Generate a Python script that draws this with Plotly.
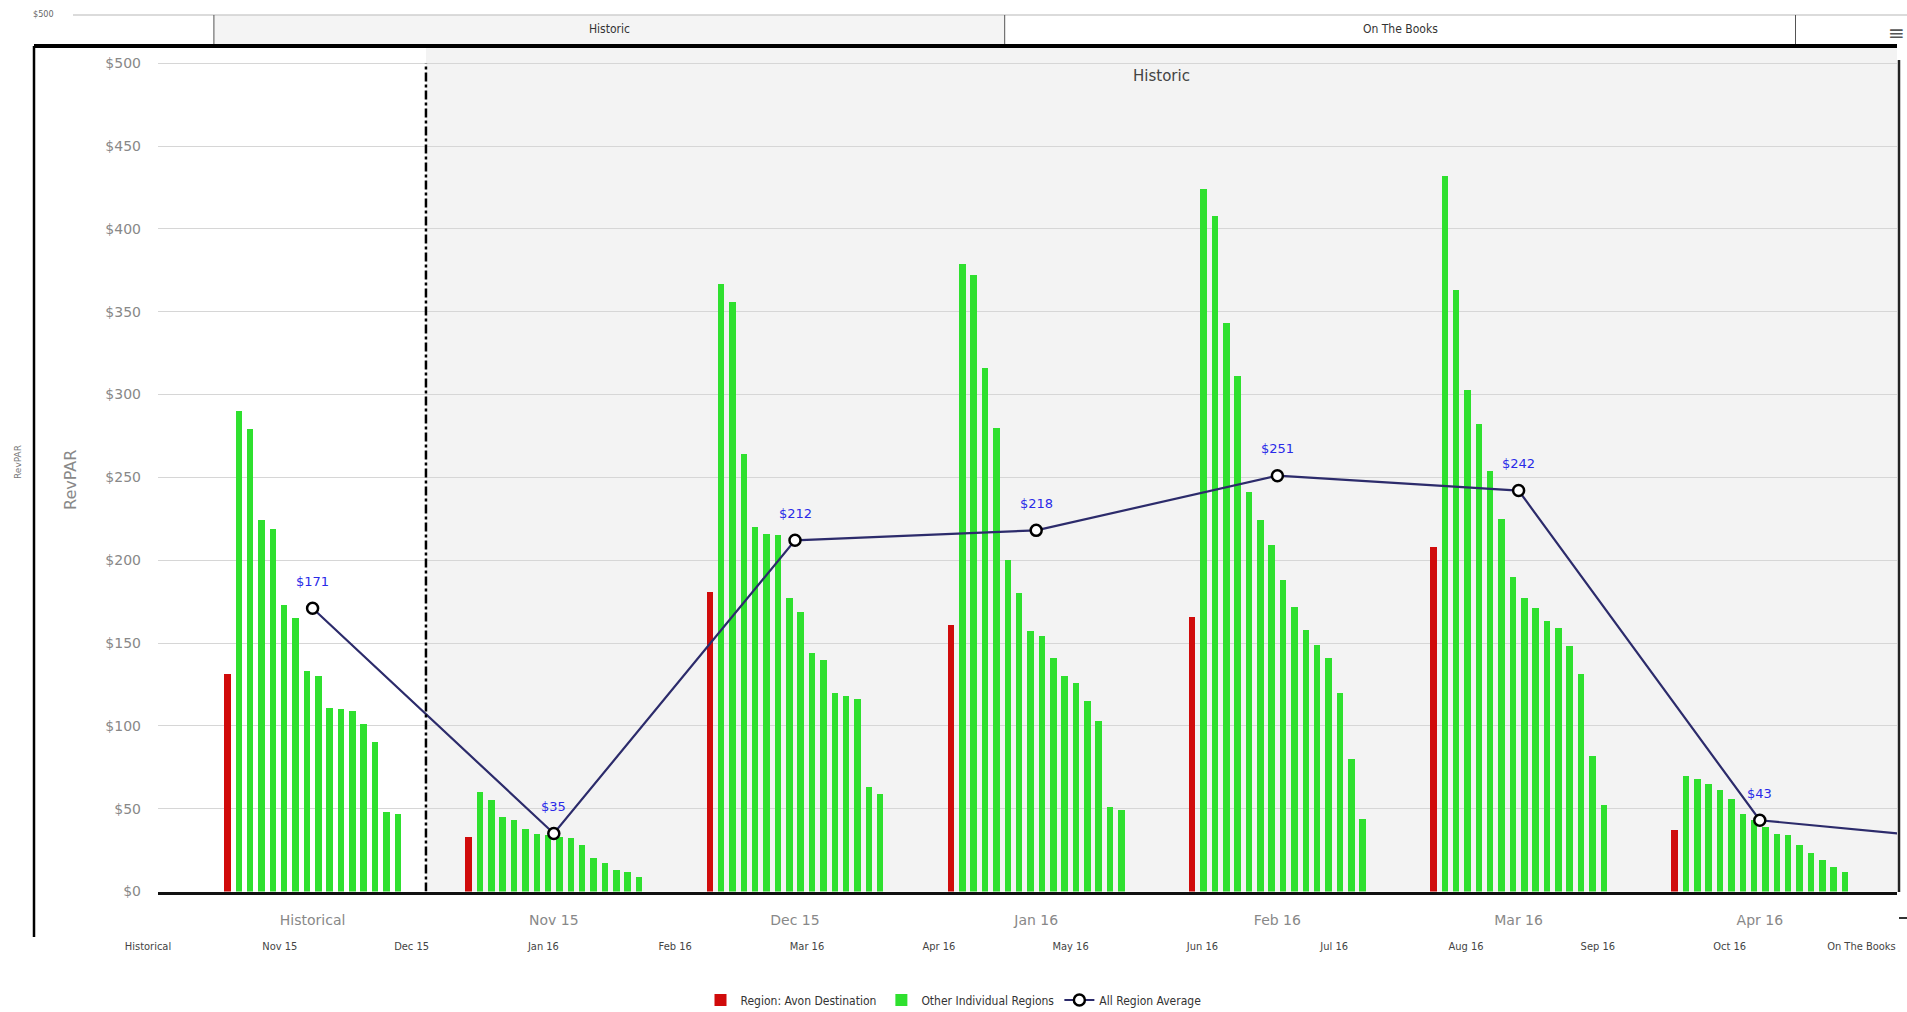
import plotly.graph_objects as go

W, H = 1907, 1012

# ---------------- data ----------------
categories = ["Historical", "Nov 15", "Dec 15", "Jan 16", "Feb 16", "Mar 16", "Apr 16"]
avon_destination = [131, 33, 181, 161, 166, 208, 37]

others_historical = [290, 279, 224, 219, 173, 165, 133, 130, 111, 110, 109, 101, 90, 48, 47]
others_nov15 = [60, 55, 45, 43, 38, 35, 34, 33, 32, 28, 20, 17, 13, 12, 9]
others_dec15 = [367, 356, 264, 220, 216, 215, 177, 169, 144, 140, 120, 118, 116, 63, 59]
others_jan16 = [379, 372, 316, 280, 200, 180, 157, 154, 141, 130, 126, 115, 103, 51, 49]
others_feb16 = [424, 408, 343, 311, 241, 224, 209, 188, 172, 158, 149, 141, 120, 80, 44]
others_mar16 = [432, 363, 303, 282, 254, 225, 190, 177, 171, 163, 159, 148, 131, 82, 52]
others_apr16 = [70, 68, 65, 61, 56, 47, 43, 39, 35, 34, 28, 23, 19, 15, 12]

all_region_average = [171, 35, 212, 218, 251, 242, 43]
average_next = 29  # next point (off the right edge)

y_ticks = [0, 50, 100, 150, 200, 250, 300, 350, 400, 450, 500]
y_tick_labels = ["$" + str(v) for v in y_ticks]

outer_ticks = ["Historical", "Nov 15", "Dec 15", "Jan 16", "Feb 16", "Mar 16", "Apr 16",
               "May 16", "Jun 16", "Jul 16", "Aug 16", "Sep 16", "Oct 16", "On The Books"]
outer_bands = [("Historic", 0.5, 6.5), ("On The Books", 6.5, 12.5)]
historic_band_start = 0.47

# ---------------- helpers ----------------
def px(x):
    return x / W


def py(y):
    return 1 - y / H


NARROW = "Liberation Sans Narrow, Arial Narrow, DejaVu Sans Condensed, sans-serif"
SANS = "DejaVu Sans, Verdana, sans-serif"
RED = "#d00b0b"
GREEN = "#2fe02f"

others = [others_historical, others_nov15, others_dec15, others_jan16,
          others_feb16, others_mar16, others_apr16]

step = 0.0471
bar_w = 0.027
n_slots = 16

red_x, red_y, green_x, green_y = [], [], [], []
for i, cat in enumerate(categories):
    red_x.append(i + (0 - (n_slots - 1) / 2) * step)
    red_y.append(avon_destination[i])
    for j, v in enumerate(others[i]):
        green_x.append(i + (j + 1 - (n_slots - 1) / 2) * step)
        green_y.append(v)

fig = go.Figure()

# invisible trace for the outer (background) axis
fig.add_trace(go.Scatter(x=list(range(len(outer_ticks))), y=[0] * len(outer_ticks),
                         xaxis="x2", yaxis="y2", mode="markers",
                         marker=dict(opacity=0), showlegend=False, hoverinfo="skip"))

fig.add_trace(go.Bar(x=red_x, y=red_y, width=bar_w, name="Region: Avon Destination",
                     marker=dict(color=RED, line=dict(width=0))))
fig.add_trace(go.Bar(x=green_x, y=green_y, width=bar_w, name="Other Individual Regions",
                     marker=dict(color=GREEN, line=dict(width=0))))

avg_x = list(range(len(categories))) + [len(categories)]
avg_y = all_region_average + [average_next]
fig.add_trace(go.Scatter(x=avg_x, y=avg_y, mode="lines+markers", name="All Region Average",
                         line=dict(color="#2c2b6b", width=2.2),
                         marker=dict(symbol="circle", size=11, color="white",
                                     line=dict(color="black", width=2.5))))

# axis geometry
x_left_px, x_right_px = 158, 1897
c0_px, grp_px = 312.6, 241.2
x_range = [(x_left_px - c0_px) / grp_px, (x_right_px - c0_px) / grp_px]
y_bottom_px, y_top_px, y500_px = 891.5, 50, 63.2
y_range = [0, 500 * (y_bottom_px - y_top_px) / (y_bottom_px - y500_px)]

o0_px, ostep_px = 148, 131.8
x2_range = [-o0_px / ostep_px, (W - o0_px) / ostep_px]

shapes = []
annotations = []

# plot band (Historic) inside inner chart
shapes.append(dict(type="rect", xref="x", yref="paper", x0=historic_band_start, x1=x_range[1],
                   y0=py(y_bottom_px), y1=py(47), fillcolor="#f3f3f3", line=dict(width=0), layer="below"))
annotations.append(dict(xref="x", yref="paper", x=(historic_band_start + x_range[1]) / 2, y=py(76),
                        xanchor="center", yanchor="middle", text="Historic", showarrow=False,
                        font=dict(family=SANS, size=15, color="#444")))

# dash-dot separator
shapes.append(dict(type="line", xref="x", yref="y", x0=historic_band_start, x1=historic_band_start,
                   y0=0, y1=500, line=dict(color="black", width=2.5, dash="dashdot")))

# inner chart frame (screenshot borders)
shapes.append(dict(type="line", xref="paper", yref="paper", x0=px(34), x1=px(1897), y0=py(46), y1=py(46),
                   line=dict(color="black", width=4)))
shapes.append(dict(type="line", xref="paper", yref="paper", x0=px(34), x1=px(34), y0=py(46), y1=py(937),
                   line=dict(color="black", width=2.5)))
shapes.append(dict(type="line", xref="paper", yref="paper", x0=px(1899), x1=px(1899), y0=py(60), y1=py(892),
                   line=dict(color="#222", width=2.5)))
shapes.append(dict(type="line", xref="paper", yref="paper", x0=px(1899), x1=1, y0=py(918), y1=py(918),
                   line=dict(color="#333", width=2)))

# outer top band strip
shapes.append(dict(type="rect", xref="x2", yref="paper", x0=outer_bands[0][1], x1=outer_bands[0][2],
                   y0=py(44), y1=py(15), fillcolor="#f4f4f4", line=dict(width=0), layer="below"))
shapes.append(dict(type="line", xref="paper", yref="paper", x0=px(73), x1=1, y0=py(15), y1=py(15),
                   line=dict(color="#cfcfcf", width=1.5)))
for sep in [outer_bands[0][1], outer_bands[0][2], outer_bands[1][2]]:
    shapes.append(dict(type="line", xref="x2", yref="paper", x0=sep, x1=sep, y0=py(15), y1=py(44),
                       line=dict(color="#555", width=1)))
for label, a, b in outer_bands:
    annotations.append(dict(xref="x2", yref="paper", x=(a + b) / 2, y=py(29), xanchor="center",
                            yanchor="middle", text=label, showarrow=False,
                            font=dict(family=NARROW, size=12, color="#333")))

# outer tiny labels
annotations.append(dict(xref="paper", yref="paper", x=px(43), y=py(14), xanchor="center", yanchor="middle",
                        text="$500", showarrow=False, font=dict(family=NARROW, size=9, color="#666")))
annotations.append(dict(xref="paper", yref="paper", x=px(18), y=py(462), xanchor="center", yanchor="middle",
                        text="RevPAR", showarrow=False, textangle=-90,
                        font=dict(family=SANS, size=9, color="#777")))
# inner y title
annotations.append(dict(xref="paper", yref="paper", x=px(71), y=py(480), xanchor="center", yanchor="middle",
                        text="RevPAR", showarrow=False, textangle=-90,
                        font=dict(family=SANS, size=16, color="#888")))
# hamburger icon
annotations.append(dict(xref="paper", yref="paper", x=1, y=py(33), xanchor="right", yanchor="middle",
                        text="≡", showarrow=False, font=dict(family=SANS, size=20, color="#555")))

# average labels
for i, v in enumerate(all_region_average):
    annotations.append(dict(xref="x", yref="y", x=i, y=v, yshift=27, text=f"${v}", showarrow=False,
                            xanchor="center", font=dict(family=SANS, size=13, color="#2a2ae8")))

fig.update_layout(
    width=W, height=H,
    margin=dict(l=0, r=0, t=0, b=0, autoexpand=False),
    paper_bgcolor="white", plot_bgcolor="rgba(0,0,0,0)",
    barmode="overlay", bargap=0,
    showlegend=True,
    legend=dict(orientation="h", x=0.5, xanchor="center", y=py(1000), yanchor="middle",
                font=dict(family=NARROW, size=12, color="#333"), bgcolor="rgba(0,0,0,0)",
                itemclick=False, traceorder="normal", itemwidth=30),
    xaxis=dict(domain=[px(x_left_px), px(x_right_px)], range=x_range,
               tickvals=list(range(len(categories))), ticktext=categories,
               tickfont=dict(family=SANS, size=14, color="#888"),
               showgrid=False, zeroline=False, showline=True, linecolor="#111", linewidth=3,
               ticks="", ticklabelstandoff=14),
    yaxis=dict(domain=[py(y_bottom_px), py(y_top_px)], range=y_range,
               tickvals=y_ticks, ticktext=y_tick_labels,
               tickfont=dict(family=SANS, size=14, color="#888"),
               showgrid=True, gridcolor="#d6d6d6", gridwidth=1, zeroline=False, showline=False,
               ticks="", ticklabelstandoff=16),
    xaxis2=dict(domain=[0, 1], range=x2_range, anchor="free", position=py(938),
                tickvals=list(range(len(outer_ticks))), ticktext=outer_ticks,
                tickfont=dict(family=NARROW, size=11, color="#444"),
                showgrid=False, zeroline=False, showline=False, ticks=""),
    yaxis2=dict(domain=[0, 1], range=[0, 1], visible=False, anchor="x2"),
    shapes=shapes,
    annotations=annotations,
)

fig.write_html("out.html")
